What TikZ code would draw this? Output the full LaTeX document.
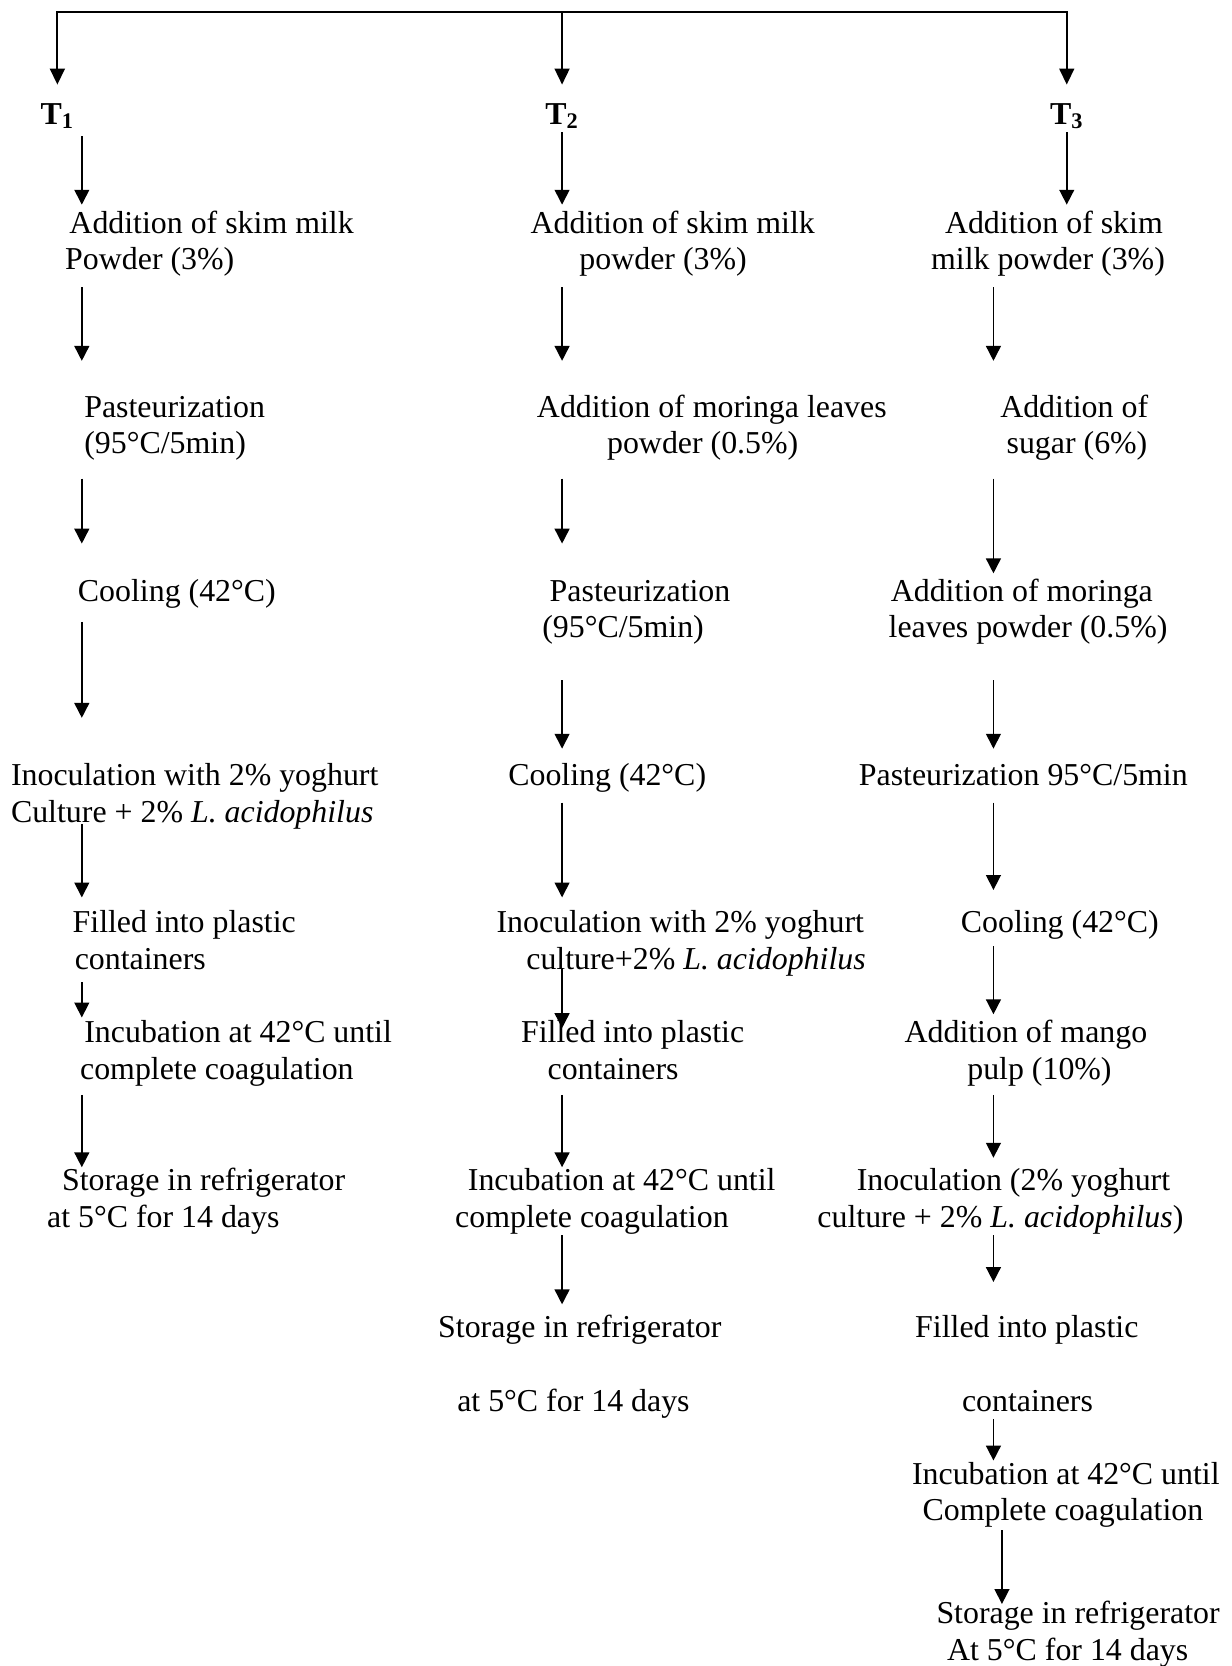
\documentclass[tikz,border=0pt]{standalone}
\usepackage{fontspec}
\setmainfont{Liberation Serif}
\usetikzlibrary{arrows.meta}
\tikzset{
  lbl/.style={anchor=base west, inner sep=0pt, text height=10.5pt, text depth=3.5pt,
    font=\fontsize{15pt}{17.25pt}\selectfont},
  tlbl/.style={anchor=base, inner sep=0pt, text height=10.5pt, text depth=3.5pt,
    font=\fontsize{15pt}{17.25pt}\selectfont\bfseries},
  arr/.style={draw, line width=0.75pt, -{Triangle[width=7pt,length=7pt]}},
  bar/.style={draw, line width=0.85pt, -{Triangle[width=7pt,length=7.5pt]}},
}
\begin{document}
\begin{tikzpicture}[x=0.5pt,y=-0.5pt]
\useasboundingbox (0,0) rectangle (1159,1568);
% column x positions of the arrows
\coordinate (x1) at (77,0);
\coordinate (x2) at (529,0);
\coordinate (x3) at (935,0);
\coordinate (x3b) at (943,0);
\coordinate (bar) at (529,11);

% treatment labels
\node[tlbl] (T1) at (54,117) {T\textsubscript{1}};
\node[tlbl] (T2) at (529,117) {T\textsubscript{2}};
\node[tlbl] (T3) at (1004,117) {T\textsubscript{3}};

% column 1
\node[lbl] (c1a1) at (65,220) {Addition of skim milk};
\node[lbl] (c1a2) at (61,254) {Powder (3\%)};
\node[lbl] (c1b1) at (79,393) {Pasteurization};
\node[lbl] (c1b2) at (79,427) {(95°C/5min)};
\node[lbl] (c1c1) at (73,566) {Cooling (42°C)};
\node[lbl] (c1d1) at (10,739) {Inoculation with 2\% yoghurt};
\node[lbl] (c1d2) at (10,774) {Culture + 2\% \textit{L. acidophilus}};
\node[lbl] (c1e1) at (68,878) {Filled into plastic};
\node[lbl] (c1e2) at (70,912) {containers};
\node[lbl] (c1f1) at (79,981) {Incubation at 42°C until};
\node[lbl] (c1f2) at (75,1016) {complete coagulation};
\node[lbl] (c1g1) at (58,1120) {Storage in refrigerator};
\node[lbl] (c1g2) at (44,1155) {at 5°C for 14 days};

% column 2
\node[lbl] (c2a1) at (499,220) {Addition of skim milk};
\node[lbl] (c2a2) at (545,254) {powder (3\%)};
\node[lbl] (c2b1) at (505,393) {Addition of moringa leaves};
\node[lbl] (c2b2) at (571,427) {powder (0.5\%)};
\node[lbl] (c2c1) at (517,566) {Pasteurization};
\node[lbl] (c2c2) at (510,600) {(95°C/5min)};
\node[lbl] (c2d1) at (478,739) {Cooling (42°C)};
\node[lbl] (c2e1) at (467,878) {Inoculation with 2\% yoghurt};
\node[lbl] (c2e2) at (495,912) {culture+2\% \textit{L. acidophilus}};
\node[lbl] (c2f1) at (490,981) {Filled into plastic};
\node[lbl] (c2f2) at (515,1016) {containers};
\node[lbl] (c2g1) at (440,1120) {Incubation at 42°C until};
\node[lbl] (c2g2) at (428,1155) {complete coagulation};
\node[lbl] (c2h1) at (412,1259) {Storage in refrigerator};
\node[lbl] (c2h2) at (430,1328) {at 5°C for 14 days};

% column 3
\node[lbl] (c3a1) at (889,220) {Addition of skim};
\node[lbl] (c3a2) at (876,254) {milk powder (3\%)};
\node[lbl] (c3b1) at (941,393) {Addition of};
\node[lbl] (c3b2) at (947,427) {sugar (6\%)};
\node[lbl] (c3c1) at (838,566) {Addition of moringa};
\node[lbl] (c3c2) at (836,600) {leaves powder (0.5\%)};
\node[lbl] (c3d1) at (808,739) {Pasteurization 95°C/5min};
\node[lbl] (c3e1) at (904,878) {Cooling (42°C)};
\node[lbl] (c3f1) at (851,981) {Addition of mango};
\node[lbl] (c3f2) at (910,1016) {pulp (10\%)};
\node[lbl] (c3g1) at (806,1120) {Inoculation (2\% yoghurt};
\node[lbl] (c3g2) at (769,1155) {culture + 2\% \textit{L. acidophilus})};
\node[lbl] (c3h1) at (861,1259) {Filled into plastic};
\node[lbl] (c3h2) at (905,1328) {containers};
\node[lbl] (c3i1) at (858,1397) {Incubation at 42°C until};
\node[lbl] (c3i2) at (868,1431) {Complete coagulation};
\node[lbl] (c3j1) at (881,1528) {Storage in refrigerator};
\node[lbl] (c3j2) at (891,1563) {At 5°C for 14 days};

% top bar
\draw[bar, shorten >=8pt] (bar) -| (T1.north);
\draw[bar, shorten >=8pt] (bar) -| (T3.north);
\draw[bar, shorten >=8pt] (bar) -- (T2.north);

% column 1 arrows
\draw[arr, shorten <=2pt, shorten >=3pt] (T1.south -| x1) -- (c1a1.north -| x1);
\draw[arr, shorten <=4.5pt, shorten >=16pt] (c1a2.south -| x1) -- (c1b1.north -| x1);
\draw[arr, shorten <=8pt, shorten >=16.5pt] (c1b2.south -| x1) -- (c1c1.north -| x1);
\draw[arr, shorten <=6pt, shorten >=21pt] (c1c1.south -| x1) -- (c1d1.north -| x1);
\draw[arr, shorten <=-3pt, shorten >=6pt] (c1d2.south -| x1) -- (c1e1.north -| x1);
\draw[arr, shorten <=2.5pt, shorten >=1pt] (c1e2.south -| x1) -- (c1f1.north -| x1);
\draw[arr, shorten <=3.5pt] (c1f2.south -| x1) -- (c1g1.north -| x1);

% column 2 arrows
\draw[arr, shorten >=3pt] (T2.south -| x2) -- (c2a1.north -| x2);
\draw[arr, shorten <=4.5pt, shorten >=16pt] (c2a2.south -| x2) -- (c2b1.north -| x2);
\draw[arr, shorten <=8pt, shorten >=16.5pt] (c2b2.south -| x2) -- (c2c1.north -| x2);
\draw[arr, shorten <=16.5pt, shorten >=6.5pt] (c2c2.south -| x2) -- (c2d1.north -| x2);
\draw[arr, shorten <=4.5pt, shorten >=6pt] (c2d1.south -| x2) -- (c2e1.north -| x2);
\draw[arr, shorten <=-4pt, shorten >=-4pt] (c2e2.south -| x2) -- (c2f1.north -| x2);
\draw[arr, shorten <=3.5pt] (c2f2.south -| x2) -- (c2g1.north -| x2);
\draw[arr, shorten >=5pt] (c2g2.south -| x2) -- (c2h1.north -| x2);

% column 3 arrows
\draw[arr, shorten >=3pt] (T3.south) -- (c3a1.north -| T3.south);
\draw[arr, shorten <=4.5pt, shorten >=16pt] (c3a2.south -| x3) -- (c3b1.north -| x3);
\draw[arr, shorten <=8pt, shorten >=2.5pt] (c3b2.south -| x3) -- (c3c1.north -| x3);
\draw[arr, shorten <=16.5pt, shorten >=6.5pt] (c3c2.south -| x3) -- (c3d1.north -| x3);
\draw[arr, shorten <=4.5pt, shorten >=9.5pt] (c3d1.south -| x3) -- (c3e1.north -| x3);
\draw[arr, shorten <=2.5pt, shorten >=2.5pt] (c3e1.south -| x3) -- (c3f1.north -| x3);
\draw[arr, shorten <=3.5pt, shorten >=4.5pt] (c3f2.south -| x3) -- (c3g1.north -| x3);
\draw[arr, shorten >=15.5pt] (c3g2.south -| x3) -- (c3h1.north -| x3);
\draw[arr, shorten >=0.5pt] (c3h2.south -| x3) -- (c3i1.north -| x3);
\draw[arr, shorten <=1pt, shorten >=-1.5pt] (c3i2.south -| x3b) -- (c3j1.north -| x3b);
\end{tikzpicture}
\end{document}
